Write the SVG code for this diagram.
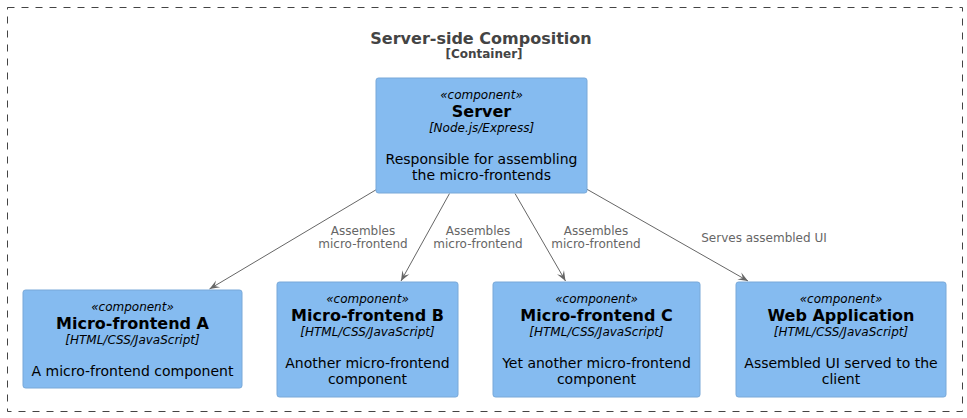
<svg xmlns="http://www.w3.org/2000/svg" width="967" height="418" viewBox="0 0 967 418">
<style>
text{font-family:"DejaVu Sans","Liberation Sans",sans-serif;text-anchor:middle}
.box{fill:#85BBF0;stroke:#78A8D8;stroke-width:1}
.st{font-size:12px;font-style:italic;fill:#000}
.nm{font-size:16px;font-weight:bold;fill:#000}
.tc{font-size:12px;font-style:italic;fill:#000}
.ds{font-size:14px;fill:#000}
.lbl{font-size:12px;fill:#666666}
.edge{stroke:#666666;stroke-width:1;fill:none;marker-end:url(#arr)}
</style>
<defs>
<marker id="arr" markerUnits="userSpaceOnUse" markerWidth="12" markerHeight="10" viewBox="-11 -5 12 10" refX="0" refY="0" orient="auto">
<path d="M0,0 L-10,-4 L-6,0 L-10,4 Z" fill="#666666"/>
</marker>
</defs>
<rect width="967" height="418" fill="#ffffff"/>
<g id="boundary">
<rect x="7.5" y="7.5" width="955" height="404" fill="none" stroke="#444444" stroke-width="1" stroke-dasharray="7,7"/>
<text x="481" y="44" style="font-size:16px;font-weight:bold;fill:#444444">Server-side Composition</text>
<text x="484" y="58" style="font-size:12px;font-weight:bold;fill:#444444">[Container]</text>
</g>
<g id="connectors">
<line class="edge" x1="376.5" y1="189.5" x2="209.5" y2="289"/>
<text class="lbl" x="363" y="235">Assembles</text>
<text class="lbl" x="363" y="248">micro-frontend</text>
<line class="edge" x1="449.5" y1="193.5" x2="401" y2="281"/>
<text class="lbl" x="478" y="235">Assembles</text>
<text class="lbl" x="478" y="248">micro-frontend</text>
<line class="edge" x1="515" y1="193.5" x2="565.5" y2="281"/>
<text class="lbl" x="596" y="235">Assembles</text>
<text class="lbl" x="596" y="248">micro-frontend</text>
<line class="edge" x1="586.5" y1="189" x2="748" y2="281"/>
<text class="lbl" x="764" y="242">Serves assembled UI</text>
</g>
<g id="server">
<rect class="box" x="376" y="78" width="211" height="115" rx="2.5"/>
<text class="st" x="481.5" y="99">«component»</text>
<text class="nm" x="481.5" y="117">Server</text>
<text class="tc" x="481.5" y="132">[Node.js/Express]</text>
<text class="ds" x="481.5" y="164">Responsible for assembling</text>
<text class="ds" x="481.5" y="180">the micro-frontends</text>
</g>
<g id="mfA">
<rect class="box" x="23" y="290" width="219" height="98" rx="2.5"/>
<text class="st" x="132.5" y="311">«component»</text>
<text class="nm" x="132.5" y="329">Micro-frontend A</text>
<text class="tc" x="132.5" y="344">[HTML/CSS/JavaScript]</text>
<text class="ds" x="132.5" y="376">A micro-frontend component</text>
</g>
<g id="mfB">
<rect class="box" x="277" y="282" width="181" height="115" rx="2.5"/>
<text class="st" x="367.5" y="303">«component»</text>
<text class="nm" x="367.5" y="321">Micro-frontend B</text>
<text class="tc" x="367.5" y="336">[HTML/CSS/JavaScript]</text>
<text class="ds" x="367.5" y="368">Another micro-frontend</text>
<text class="ds" x="367.5" y="384">component</text>
</g>
<g id="mfC">
<rect class="box" x="493" y="282" width="207" height="115" rx="2.5"/>
<text class="st" x="596.5" y="303">«component»</text>
<text class="nm" x="596.5" y="321">Micro-frontend C</text>
<text class="tc" x="596.5" y="336">[HTML/CSS/JavaScript]</text>
<text class="ds" x="596.5" y="368">Yet another micro-frontend</text>
<text class="ds" x="596.5" y="384">component</text>
</g>
<g id="webapp">
<rect class="box" x="736" y="282" width="210" height="115" rx="2.5"/>
<text class="st" x="841" y="303">«component»</text>
<text class="nm" x="841" y="321">Web Application</text>
<text class="tc" x="841" y="336">[HTML/CSS/JavaScript]</text>
<text class="ds" x="841" y="368">Assembled UI served to the</text>
<text class="ds" x="841" y="384">client</text>
</g>
</svg>
